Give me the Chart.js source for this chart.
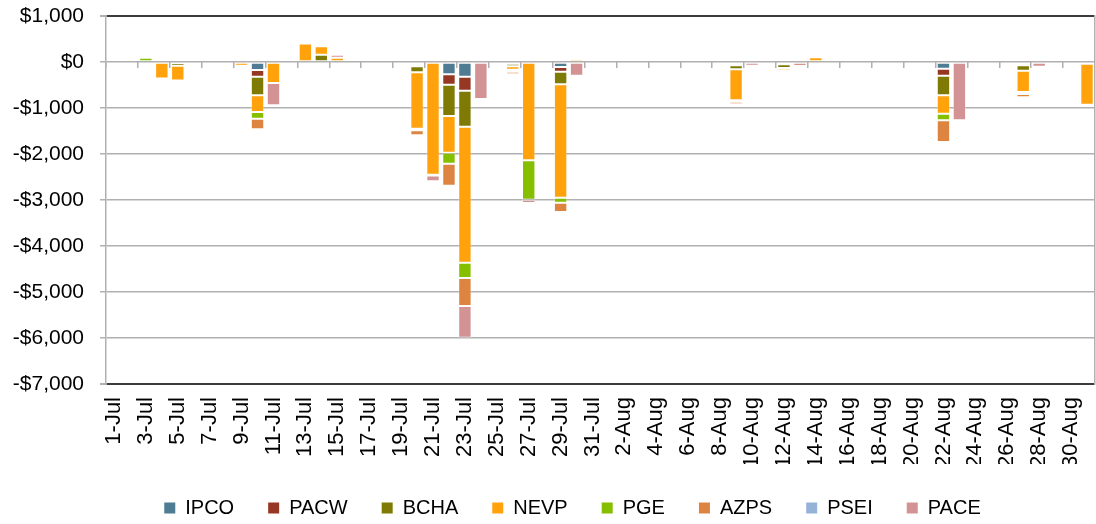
<!DOCTYPE html>
<html>
<head>
<meta charset="utf-8">
<script src="https://cdn.jsdelivr.net/npm/chart.js@4.4.1/dist/chart.umd.min.js"></script>
<style>
  body { margin: 0; background: #fff; }
  canvas { display: block; }
</style>
</head>
<body>
<canvas id="grafico" width="1096" height="524"></canvas>
<script>
// === Dias (jul/ago) ===
var dias = [
  '1-Jul','2-Jul','3-Jul','4-Jul','5-Jul','6-Jul','7-Jul','8-Jul','9-Jul','10-Jul',
  '11-Jul','12-Jul','13-Jul','14-Jul','15-Jul','16-Jul','17-Jul','18-Jul','19-Jul','20-Jul',
  '21-Jul','22-Jul','23-Jul','24-Jul','25-Jul','26-Jul','27-Jul','28-Jul','29-Jul','30-Jul','31-Jul',
  '1-Aug','2-Aug','3-Aug','4-Aug','5-Aug','6-Aug','7-Aug','8-Aug','9-Aug','10-Aug',
  '11-Aug','12-Aug','13-Aug','14-Aug','15-Aug','16-Aug','17-Aug','18-Aug','19-Aug','20-Aug',
  '21-Aug','22-Aug','23-Aug','24-Aug','25-Aug','26-Aug','27-Aug','28-Aug','29-Aug','30-Aug','31-Aug'
];

// === Valores por área ($) ===
var ipco = [
  -20,0,0,0,-20,0,0,0,0,-174,
  0,0,0,0,0,0,0,-15,0,-58,
  0,-268,-319,0,0,-20,0,0,-109,0,0,
  0,0,0,0,0,0,0,0,-51,0,
  0,-36,0,0,0,0,0,0,0,0,
  0,-145,0,0,0,0,-36,0,0,0,0
];
var pacw = [
  0,0,0,0,0,0,0,0,0,-145,
  0,0,0,0,0,0,0,-10,0,-36,
  0,-225,-304,0,0,-20,0,0,-101,0,0,
  0,0,0,0,0,0,0,0,-22,0,
  0,-15,0,0,0,0,0,0,0,0,
  0,-152,0,0,0,0,-36,0,0,0,0
];
var bcha = [
  0,0,0,0,-60,0,0,0,0,-405,
  0,0,0,160,0,0,0,-30,0,-130,
  0,-681,-783,0,0,-50,0,0,-275,0,0,
  0,0,0,0,0,0,0,0,-87,0,
  0,-80,0,0,0,0,0,0,0,0,
  0,-428,0,-10,0,0,-116,0,0,36,-36
];
var nevp = [
  0,0,0,-360,-320,0,0,0,-80,-362,
  -456,0,400,180,95,0,0,-45,0,-1225,
  -2450,-797,-2957,0,0,-80,-2138,0,-2464,65,0,
  0,0,0,0,0,0,0,0,-674,36,
  0,-50,0,101,0,0,0,0,0,0,
  0,-399,0,0,0,0,-464,0,0,10,-891
];
var pge = [
  0,0,90,0,-20,0,0,0,0,-145,
  0,0,0,0,0,0,0,-30,0,-36,
  0,-239,-333,0,0,-40,-855,0,-109,0,0,
  0,0,0,0,0,0,0,0,-29,0,
  0,-29,0,0,0,0,0,0,0,0,
  0,-145,0,0,0,0,-43,0,0,0,-22
];
var azps = [
  0,0,0,0,-20,0,0,0,0,-232,
  0,0,0,-30,0,0,0,0,0,-109,
  -20,-478,-609,0,0,-55,0,0,-203,0,0,
  0,0,0,0,0,0,0,0,-58,0,
  0,-45,0,0,0,0,0,0,0,0,
  0,-471,0,0,0,0,-72,0,0,0,-30
];
var psei = [
  0,0,0,0,0,0,0,0,0,0,
  0,0,0,0,0,0,0,0,0,0,
  0,0,0,0,0,0,0,0,0,0,0,
  0,0,0,0,0,0,0,0,0,0,
  0,0,0,0,0,0,0,0,0,0,
  0,0,0,0,0,0,0,0,0,0,0
];
var pace = [
  0,0,0,0,0,-50,0,0,0,0,
  -486,-10,0,0,65,0,0,0,-25,0,
  -125,0,-688,-804,0,0,-72,0,0,-297,0,
  0,0,0,0,0,0,0,0,0,-80,
  0,0,-87,0,0,0,0,0,0,0,
  0,0,-1268,0,0,0,0,-101,0,0,0
];

// escala do eixo Y
var yMin = -7000;
var yMax = 1000;
var yPasso = 1000;

var fonte = "'Liberation Sans', Arial, sans-serif";
var cinza = '#b0b0b0';
var escuro = '#3c3c3c';

function serie(nome, dados, cor) {
  return {
    label: nome,
    data: dados,
    backgroundColor: cor,
    borderColor: 'rgba(255,255,255,0.3)',
    borderWidth: 1,
    borderSkipped: false,
    barPercentage: 0.84,
    categoryPercentage: 1
  };
}

function dolar(v) {
  var s = '$' + Math.abs(v).toLocaleString('en-US');
  return v < 0 ? '-' + s : s;
}

// tamanho fixo dos eixos, sem a folga automática dos rótulos
function fixaEixo(largura, altura) {
  return function(scale) {
    if (largura !== null) scale.width = largura;
    if (altura !== null) scale.height = altura;
    scale.paddingTop = 0;
    scale.paddingBottom = 0;
    scale.paddingLeft = 0;
    scale.paddingRight = 0;
  };
}

// legenda um pouco deslocada para a direita (fica centrada sob a área do gráfico)
var moveLegenda = {
  id: 'moveLegenda',
  afterLayout: function(chart) {
    if (chart.legend) chart.legend.left += 50;
  }
};

// === GRÁFICO DE BARRAS EMPILHADAS ===
var ctx = document.getElementById('grafico');
new Chart(ctx, {
  type: 'bar',
  data: {
    labels: dias,
    datasets: [
      serie('IPCO', ipco, '#4f7b93'),
      serie('PACW', pacw, '#963723'),
      serie('BCHA', bcha, '#7e7a03'),
      serie('NEVP', nevp, '#ffa20c'),
      serie('PGE', pge, '#85bf00'),
      serie('AZPS', azps, '#dc8440'),
      serie('PSEI', psei, '#95b3d7'),
      serie('PACE', pace, '#d39294')
    ]
  },
  plugins: [moveLegenda],
  options: {
    responsive: false,
    animation: false,
    layout: { padding: { left: 0, right: 1, top: 16, bottom: 0 } },
    scales: {
      x: {
        stacked: true,
        grid: { display: false, drawTicks: false },
        border: { display: false },
        ticks: {
          autoSkip: false,
          minRotation: 90,
          maxRotation: 90,
          padding: 13,
          color: '#000',
          font: { family: fonte, size: 22 },
          callback: function(val, i) {
            return i % 2 === 0 ? this.getLabelForValue(val) : '';
          }
        },
        afterFit: fixaEixo(null, 80)
      },
      // marcas do eixo de categorias sobre a linha do zero
      xZero: {
        type: 'category',
        axis: 'x',
        position: { y: 0 },
        offset: true,
        grid: {
          offset: true,
          drawOnChartArea: false,
          tickLength: 6,
          lineWidth: 1.5,
          tickColor: function(c) { return c.index % 2 === 0 ? cinza : 'rgba(0,0,0,0)'; }
        },
        border: { display: false },
        ticks: { display: false },
        afterFit: fixaEixo(null, null)
      },
      y: {
        stacked: true,
        min: yMin,
        max: yMax,
        ticks: {
          stepSize: yPasso,
          padding: 16,
          color: '#000',
          font: { family: fonte, size: 21 },
          callback: function(v) { return dolar(v); }
        },
        grid: {
          tickLength: 6,
          tickColor: cinza,
          color: function(c) {
            var v = c.tick && c.tick.value;
            return (v === yMin || v === yMax) ? escuro : cinza;
          },
          lineWidth: function(c) {
            var v = c.tick && c.tick.value;
            return (v === yMin || v === yMax) ? 2 : 1.5;
          }
        },
        border: { color: cinza, width: 1.5 },
        afterFit: fixaEixo(106, null)
      },
      yDir: {
        position: 'right',
        grid: { drawOnChartArea: false, drawTicks: false },
        ticks: { display: false },
        border: { color: cinza, width: 1.5 },
        afterFit: fixaEixo(0, null)
      }
    },
    plugins: {
      tooltip: { enabled: false },
      legend: {
        position: 'bottom',
        maxHeight: 60,
        labels: {
          boxWidth: 11,
          boxHeight: 11,
          padding: 34,
          color: '#000',
          font: { family: fonte, size: 20 },
          generateLabels: function(chart) {
            var itens = Chart.defaults.plugins.legend.labels.generateLabels(chart);
            itens.forEach(function(it) { it.strokeStyle = it.fillStyle; it.lineWidth = 0; });
            return itens;
          }
        }
      }
    }
  }
});
</script>
</body>
</html>
